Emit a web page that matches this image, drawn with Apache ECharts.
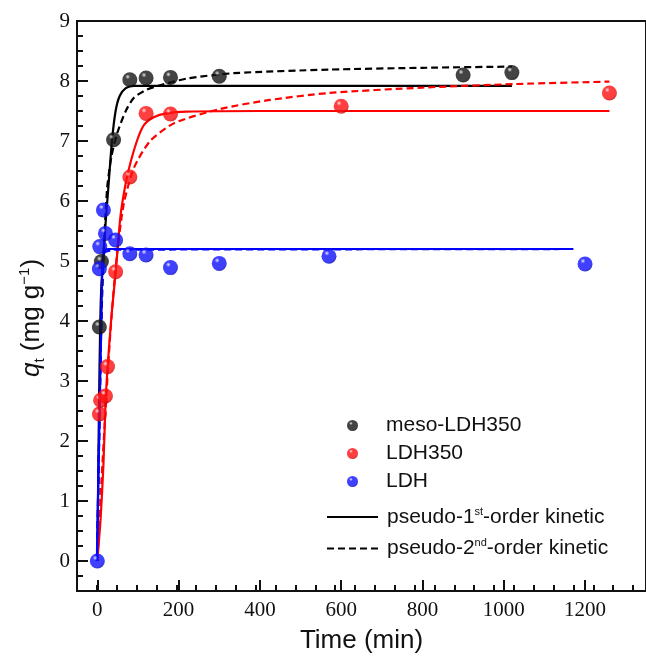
<!DOCTYPE html>
<html>
<head>
<meta charset="utf-8">
<script src="https://cdn.jsdelivr.net/npm/echarts@6/dist/echarts.min.js"></script>
<style>
  html, body { margin: 0; padding: 0; background: #fff; }
  #chart { width: 646px; height: 661px; }
</style>
</head>
<body>
<div id="chart"></div>
<script>
// tick labels
const xTicks = [0, 200, 400, 600, 800, 1000, 1200];
const yTicks = [0, 1, 2, 3, 4, 5, 6, 7, 8, 9];

// experimental points (time in min, q_t in mg/g)
const mesoT = [5, 10, 40, 80, 120, 180, 300, 900, 1020];
const mesoQ = [3.9, 4.99, 7.02, 8.02, 8.05, 8.06, 8.08, 8.1, 8.14];
const ldh350T = [5, 8, 20, 25, 45, 80, 120, 180, 600, 1260];
const ldh350Q = [2.45, 2.68, 2.75, 3.24, 4.82, 6.4, 7.46, 7.45, 7.58, 7.8];
const ldhT = [0, 5, 6, 15, 20, 45, 80, 120, 180, 300, 570, 1200];
const ldhQ = [0, 4.87, 5.24, 5.85, 5.46, 5.35, 5.12, 5.1, 4.89, 4.96, 5.08, 4.95];

// fitted curves
const mesoP1T = [0, 4, 7, 10, 15, 20, 28, 36, 45, 55, 70, 90, 1020];
const mesoP1Q = [0, 2.5, 3.9, 4.6, 5.1, 5.6, 6.3, 7.0, 7.5, 7.75, 7.88, 7.92, 7.92];
const mesoP2T = [0, 8, 15, 24, 35, 49, 70, 90, 120, 150, 220, 335, 570, 800, 1020];
const mesoP2Q = [0, 3.5, 5.0, 6.2, 6.75, 7.13, 7.5, 7.72, 7.85, 7.92, 8.04, 8.13, 8.19, 8.22, 8.24];
const ldh350P1T = [0, 8, 15, 20, 25, 35, 45, 57, 70, 82, 100, 115, 140, 170, 220, 400, 1260];
const ldh350P1Q = [0, 0.7, 1.6, 2.6, 3.2, 4.1, 4.8, 5.75, 6.3, 6.65, 7.05, 7.27, 7.4, 7.46, 7.49, 7.5, 7.5];
const ldh350P2T = [0, 10, 20, 30, 40, 50, 65, 90, 130, 190, 300, 420, 570, 800, 1030, 1260];
const ldh350P2Q = [0, 1.3, 2.5, 3.6, 4.5, 5.2, 5.95, 6.55, 7.0, 7.3, 7.53, 7.68, 7.8, 7.89, 7.95, 7.99];
const ldhP1T = [0, 14, 20, 30, 1200];
const ldhP1Q = [0, 5.0, 5.19, 5.2, 5.2];
const ldhP2T = [0, 14, 20, 40, 1200];
const ldhP2Q = [0, 4.95, 5.15, 5.19, 5.2];

const zip = (a, b) => a.map((v, i) => [v, b[i]]);

const SANS = "'Liberation Sans', Arial, sans-serif";
const SERIF = "'Liberation Serif', 'Times New Roman', serif";
const INK = '#111';
const CLEAR = 'rgba(0,0,0,0)';

// both grids cover the same rectangle; the second one only carries minor ticks
const plotBox = { left: 77, right: -3, top: 21, bottom: 70 };

function sphere(light, base, dark) {
  return {
    type: 'radial', x: 0.36, y: 0.3, r: 0.75,
    colorStops: [
      { offset: 0, color: light },
      { offset: 0.22, color: base },
      { offset: 0.75, color: base },
      { offset: 1, color: dark }
    ]
  };
}

function fitLine(name, pts, color, dashed, onMinorGrid) {
  return {
    name: name,
    type: 'line',
    data: pts,
    xAxisIndex: onMinorGrid ? 1 : 0,
    yAxisIndex: onMinorGrid ? 1 : 0,
    symbol: 'none',
    smooth: color === '#0000ff' ? false : 0.25,
    itemStyle: { color: color },
    lineStyle: { color: color, width: 2.2, type: dashed ? [7, 4] : 'solid' },
    z: 2
  };
}

function dots(name, pts, fill) {
  return {
    name: name,
    type: 'scatter',
    data: pts,
    symbol: 'circle',
    symbolSize: 15,
    itemStyle: { color: fill },
    z: 3
  };
}

const P1 = 'pseudo-1st-order kinetic';
const P2 = 'pseudo-2nd-order kinetic';

const chart = echarts.init(document.getElementById('chart'));
chart.setOption({
  animation: false,
  backgroundColor: '#fff',
  grid: [
    Object.assign({ show: true, borderColor: INK, borderWidth: 2 }, plotBox),
    Object.assign({ show: false }, plotBox)
  ],
  legend: [
    {
      data: ['meso-LDH350', 'LDH350', 'LDH'],
      orient: 'vertical',
      left: 347, top: 415,
      padding: 0,
      itemWidth: 11, itemHeight: 11, itemGap: 7,
      icon: 'circle',
      formatter: n => '{a|' + n + '}',
      textStyle: {
        rich: { a: { fontFamily: SANS, fontSize: 21, color: INK, lineHeight: 22, padding: [0, 0, 0, 23] } }
      }
    },
    {
      data: [P1, P2],
      orient: 'vertical',
      left: 326, top: 506,
      padding: 0,
      itemWidth: 51, itemHeight: 14, itemGap: 10,
      itemStyle: { opacity: 0 },
      formatter: n => n === P1
        ? '{f|pseudo-1}{s|st}{a|-order kinetic}'
        : '{f|pseudo-2}{s|nd}{a|-order kinetic}',
      textStyle: {
        rich: {
          f: { fontFamily: SANS, fontSize: 21, color: INK, lineHeight: 22, padding: [0, 0, 0, 4] },
          a: { fontFamily: SANS, fontSize: 21, color: INK, lineHeight: 22 },
          s: { fontFamily: SANS, fontSize: 11, color: INK, lineHeight: 22, verticalAlign: 'top', padding: [0, 0, 10, 0] }
        }
      }
    }
  ],
  xAxis: [
    {
      gridIndex: 0,
      type: 'value', min: -50, max: 1350,
      position: 'bottom',
      splitLine: { show: false },
      axisLine: { show: true, onZero: false, lineStyle: { color: INK, width: 2 } },
      axisTick: { show: true, inside: true, length: 11, customValues: xTicks, lineStyle: { color: INK, width: 2 } },
      axisLabel: { customValues: xTicks, formatter: v => String(v), fontFamily: SERIF, fontSize: 21, color: INK, margin: 9 },
      name: 'Time (min)',
      nameLocation: 'middle',
      nameGap: 37,
      nameTextStyle: { fontFamily: SANS, fontSize: 26, color: INK }
    },
    {
      // minor ticks every 50 min (min is a multiple of the interval)
      gridIndex: 1,
      type: 'value', min: -50, max: 1350, interval: 50,
      position: 'bottom',
      splitLine: { show: false },
      axisLine: { show: true, onZero: false, lineStyle: { color: CLEAR } },
      axisTick: { show: true, inside: true, length: 6, lineStyle: { color: INK, width: 2 } },
      axisLabel: { show: true, color: CLEAR, fontSize: 8 }
    }
  ],
  yAxis: [
    {
      gridIndex: 0,
      type: 'value', min: -0.5, max: 9,
      position: 'left',
      splitLine: { show: false },
      axisLine: { show: true, onZero: false, lineStyle: { color: INK, width: 2 } },
      axisTick: { show: true, inside: true, length: 11, customValues: yTicks, lineStyle: { color: INK, width: 2 } },
      axisLabel: { customValues: yTicks, fontFamily: SERIF, fontSize: 21, color: INK, margin: 7 },
      name: '{i|q}{b|t}{n| (mg g}{p|−1}{n|)}',
      nameLocation: 'middle',
      nameRotate: 90,
      nameGap: 30,
      nameTextStyle: {
        padding: [0, 0, 0, -24],
        rich: {
          i: { fontFamily: SANS, fontSize: 26, fontStyle: 'italic', color: INK, lineHeight: 30 },
          n: { fontFamily: SANS, fontSize: 26, color: INK, lineHeight: 30 },
          b: { fontFamily: SANS, fontSize: 15, color: INK, lineHeight: 30, verticalAlign: 'bottom', padding: [10, 0, 0, 0] },
          p: { fontFamily: SANS, fontSize: 15, color: INK, lineHeight: 30, verticalAlign: 'top', padding: [0, 0, 12, 0] }
        }
      }
    },
    {
      // minor ticks every 0.25 (min is a multiple of the interval)
      gridIndex: 1,
      type: 'value', min: -0.5, max: 9, interval: 0.25,
      position: 'left',
      splitLine: { show: false },
      axisLine: { show: true, onZero: false, lineStyle: { color: CLEAR } },
      axisTick: { show: true, inside: true, length: 6, lineStyle: { color: INK, width: 2 } },
      axisLabel: { show: true, color: CLEAR, fontSize: 8 }
    }
  ],
  series: [
    fitLine(P1, zip(mesoP1T, mesoP1Q), '#000', false, false),
    fitLine(P2, zip(mesoP2T, mesoP2Q), '#000', true, false),
    fitLine(P1, zip(ldh350P1T, ldh350P1Q), '#ff0000', false, false),
    fitLine(P2, zip(ldh350P2T, ldh350P2Q), '#ff0000', true, false),
    // the blue fits live in the second grid: same box, same ranges
    fitLine(P1, zip(ldhP1T, ldhP1Q), '#0000ff', false, true),
    fitLine(P2, zip(ldhP2T, ldhP2Q), '#0000ff', true, true),
    dots('meso-LDH350', zip(mesoT, mesoQ), sphere('#e0e0e0', '#151515', '#000')),
    dots('LDH350', zip(ldh350T, ldh350Q), sphere('#ffe0e0', '#ff1010', '#c00000')),
    dots('LDH', zip(ldhT, ldhQ), sphere('#e0e0ff', '#1010ff', '#0000b0'))
  ]
});
</script>
</body>
</html>
